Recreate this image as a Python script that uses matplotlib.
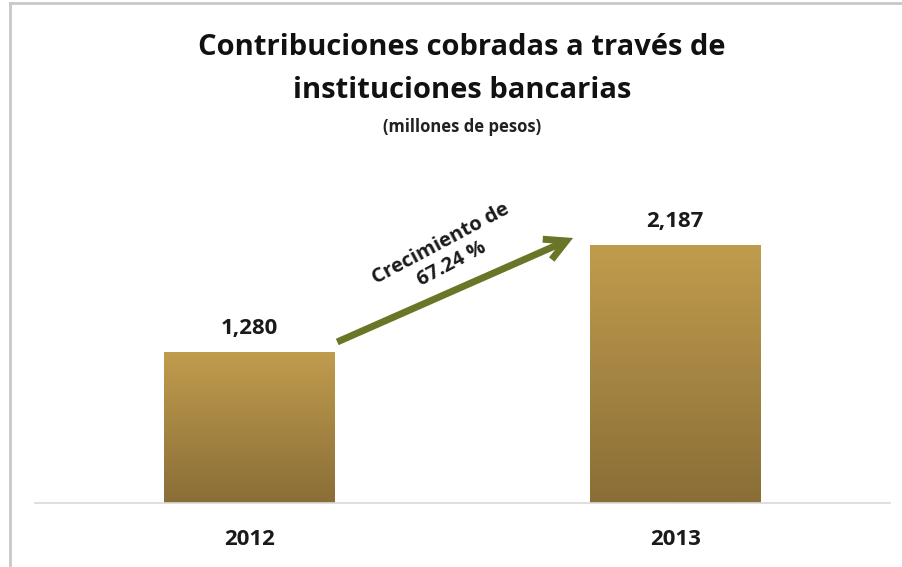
import matplotlib.pyplot as plt
import numpy as np
from matplotlib.colors import LinearSegmentedColormap

anios = ['2012', '2013']
montos = [1280, 2187]
etiquetas = ['1,280', '2,187']
crecimiento = 'Crecimiento de\n67.24 %'

plt.rcParams['font.family'] = ['Open Sans', 'DejaVu Sans']

fig = plt.figure(figsize=(9.03, 5.67), dpi=100)
ax = fig.add_axes([0.0388, 0.1129, 0.947, 0.71])

x = np.arange(len(anios))
barras = ax.bar(x, montos, width=0.4, color='none', edgecolor='none')

# degradado dorado en cada barra
cmap = LinearSegmentedColormap.from_list('oro', ['#8a6e37', '#c09c4d'])
grad = np.linspace(0, 1, 256).reshape(-1, 1)
for b in barras:
    x0, w, h = b.get_x(), b.get_width(), b.get_height()
    im = ax.imshow(grad, cmap=cmap, aspect='auto', origin='lower',
                   extent=[x0, x0 + w, 0, h], zorder=2)
    im.set_clip_path(b)

for xi, v, t in zip(x, montos, etiquetas):
    ax.text(xi, v + 110, t, ha='center', va='bottom', fontsize=16,
            fontweight='bold', color='#1a1a1a')

ax.set_xlim(-0.504, 1.505)
ax.set_ylim(0, 3415)
ax.set_xticks(x)
ax.set_xticklabels(anios, fontsize=16, fontweight='bold', color='#1a1a1a')
ax.tick_params(axis='x', length=0, pad=19)
ax.set_yticks([])
for s in ['top', 'right', 'left']:
    ax.spines[s].set_visible(False)
ax.spines['bottom'].set_color('#d9d9d9')
ax.spines['bottom'].set_linewidth(1.2)

# flecha de crecimiento
ax.annotate('', xy=(0.760, 2248), xytext=(0.206, 1366),
            arrowprops=dict(arrowstyle='->,head_length=1.5,head_width=0.8',
                            color='#6b7528', lw=5, shrinkA=0, shrinkB=0,
                            joinstyle='miter', capstyle='butt'),
            zorder=3)
ax.text(0.462, 2110, crecimiento, rotation=28, ha='center', va='center',
        fontsize=14.5, fontweight='bold', color='#1a1a1a', linespacing=1.2,
        rotation_mode='anchor')

fig.text(0.5116, 0.916, 'Contribuciones cobradas a través de', ha='center',
         va='center', fontsize=21, fontweight='bold', color='#111111')
fig.text(0.5116, 0.840, 'instituciones bancarias', ha='center', va='center',
         fontsize=21, fontweight='bold', color='#111111')
fig.text(0.5116, 0.776, '(millones de pesos)', ha='center', va='center',
         fontsize=12, fontweight='bold', color='#222222')

# marco gris superior e izquierdo
fig.add_artist(plt.Line2D([0.011, 0.011], [0, 0.995], color='#c8c8c8', lw=2,
                          transform=fig.transFigure))
fig.add_artist(plt.Line2D([0.011, 1], [0.995, 0.995], color='#c8c8c8', lw=2,
                          transform=fig.transFigure))

fig.savefig('out.png', dpi=100)
